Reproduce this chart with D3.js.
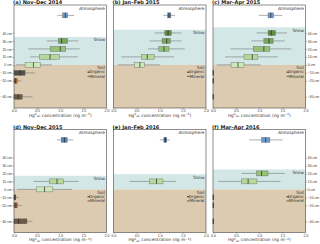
<!DOCTYPE html>
<html><head><meta charset="utf-8">
<script src="https://cdn.jsdelivr.net/npm/d3@7/dist/d3.min.js"></script>
<style>body{margin:0;background:#fff}svg{display:block;font-family:"DejaVu Sans",sans-serif}</style>
</head><body><svg id="c" width="320" height="244"></svg>
<script>
const panelTitles = ["(a) Nov–Dec 2014","(b) Jan–Feb 2015","(c) Mar–Apr 2015","(d) Nov–Dec 2015","(e) Jan–Feb 2016","(f) Mar–Apr 2016"];
const snowTop = [35, 44, 47, 17, 19, 25];
const depthTicks = [40,30,20,10,0,-10,-20,-40];
const depthLabels = ["40 cm","30 cm","20 cm","10 cm","0 cm","−10 cm","−20 cm","−40 cm"];
const xTicks = [0,0.5,1,1.5,2];
const xTickLabels = ["0.0","0.5","1.0","1.5","2.0"];
const atmDepth = 62;
// [whiskerLow, q1, median, q3, whiskerHigh]
const atmStats = [
  [0.94,1.05,1.11,1.16,1.30],
  [1.07,1.17,1.20,1.24,1.33],
  [0.99,1.19,1.25,1.31,1.50],
  [0.93,1.02,1.09,1.15,1.28],
  [1.00,1.09,1.12,1.15,1.22],
  [0.78,1.05,1.14,1.23,1.51]
];
// [panel, depth, wl, q1, med, q3, wh]
const snowStats = [
  [0,30,0.71,0.96,1.03,1.16,1.39],[0,20,0.31,0.78,1.00,1.12,1.42],[0,10,0.35,0.55,0.78,0.98,1.38],[0,0,0.04,0.24,0.42,0.57,0.82],
  [1,40,0.89,1.11,1.18,1.25,1.47],[1,30,0.78,1.05,1.15,1.23,1.47],[1,20,0.75,0.98,1.09,1.20,1.54],[1,10,0.17,0.60,0.73,0.88,1.31],[1,0,0.09,0.46,0.57,0.67,1.00],
  [2,40,0.94,1.19,1.26,1.35,1.60],[2,30,0.83,1.10,1.21,1.30,1.55],[2,20,0.38,0.87,1.10,1.23,1.69],[2,10,0.26,0.67,0.85,0.97,1.40],[2,0,0.08,0.39,0.54,0.67,1.03],
  [3,10,0.42,0.77,0.93,1.07,1.40],[3,0,0.06,0.48,0.66,0.84,1.25],
  [4,10,0.35,0.78,0.93,1.07,1.35],
  [5,20,0.62,0.94,1.05,1.19,1.55],[5,10,0.11,0.62,0.76,0.95,1.46]
];
// [panel, depth, type, wl, q1, med, q3, wh]
const soilStats = [
  [0,-10,"Organic",0,0,0.13,0.24,0.46],[0,-20,"Mineral",0,0,0.03,0.07,0.16],[0,-40,"Mixed",0,0,0.09,0.18,0.40],
  [2,-10,"Organic",0,0,0.005,0.01,0.02],[2,-20,"Organic",0,0,0.005,0.01,0.02],[2,-40,"Organic",0,0,0.005,0.01,0.02],
  [3,-10,"Organic",0,0,0.02,0.04,0.11],[3,-20,"Mineral",0,0,0.04,0.07,0.17],[3,-40,"Mixed",0,0,0.10,0.28,0.40],
  [5,-10,"Organic",0,0,0.005,0.01,0.02],[5,-20,"Organic",0,0,0.005,0.01,0.02],[5,-40,"Organic",0,0,0.005,0.01,0.02]
];

const snowColors = {40:"#5f8f45",30:"#77a75a",20:"#94c175",10:"#b4d99a",0:"#cde7b9"};
const atmColors = ["#6b9bd1","#4d78a6","#6b9bd1","#5585bb","#3f6893","#6b9bd1"];
const soilColors = {Organic:"#55504a",Mineral:"#a0672f",Mixed:"#6c5843"};

const svg = d3.select("#c");
const lefts = [14,113.5,213], tops = [5,129.5], W = 92.5, H = 103;
const boxH = 5;

panelTitles.forEach((title,i)=>{
  const col = i%3, row = Math.floor(i/3);
  const x0 = lefts[col], y0 = tops[row];
  const x = d3.scaleLinear().domain([0,2]).range([x0,x0+W]);
  const y = d3.scaleLinear().domain([75,-54]).range([y0,y0+H]);
  const g = svg.append("g");
  g.append("rect").attr("x",x0).attr("width",W).attr("y",y(snowTop[i])).attr("height",y(0)-y(snowTop[i])).attr("fill","#d3e7e7");
  g.append("rect").attr("x",x0).attr("width",W).attr("y",y(0)).attr("height",y(-54)-y(0)).attr("fill","#dccbb0");
  g.append("text").attr("x",x0+W-1.5).attr("y",y0+4.5).attr("text-anchor","end").attr("font-size",4.3).attr("fill","#333").text("Atmosphere");
  g.append("text").attr("x",x0+W-1.5).attr("y",y(snowTop[i])+4.5).attr("text-anchor","end").attr("font-size",4.3).attr("fill","#333").text("Snow");
  g.append("text").attr("x",x0+W-1.5).attr("y",y(0)+4.5).attr("text-anchor","end").attr("font-size",4.3).attr("fill","#333").text("Soil");
  ["Organic","Mineral"].forEach((t,k)=>{
    const ly = y(0)+8.6+k*4.2;
    g.append("line").attr("x1",x0+W-19).attr("x2",x0+W-16.5).attr("y1",ly-1.3).attr("y2",ly-1.3).attr("stroke",soilColors[t]).attr("stroke-width",1.2);
    g.append("text").attr("x",x0+W-1.5).attr("y",ly).attr("text-anchor","end").attr("font-size",4.1).attr("fill","#333").text(t);
  });
  function box(s, yc, fill){
    const [wl,q1,md,q3,wh] = s;
    g.append("line").attr("x1",x(wl)).attr("x2",x(wh)).attr("y1",yc).attr("y2",yc).attr("stroke","#777").attr("stroke-width",0.6);
    g.append("rect").attr("x",x(q1)).attr("width",Math.max(0.6,x(q3)-x(q1))).attr("y",yc-boxH/2).attr("height",boxH).attr("fill",fill).attr("stroke","#666").attr("stroke-width",0.4);
    g.append("line").attr("x1",x(md)).attr("x2",x(md)).attr("y1",yc-boxH/2).attr("y2",yc+boxH/2).attr("stroke","#222").attr("stroke-width",0.7);
  }
  box(atmStats[i], y(atmDepth), atmColors[i]);
  snowStats.filter(d=>d[0]===i).forEach(d=>box(d.slice(2), y(d[1]), snowColors[d[1]]));
  soilStats.filter(d=>d[0]===i).forEach(d=>box(d.slice(3), y(d[1]), soilColors[d[2]]));
  g.append("rect").attr("x",x0).attr("y",y0).attr("width",W).attr("height",H).attr("fill","none").attr("stroke","#444").attr("stroke-width",0.6);
  const xa = g.append("g").attr("transform",`translate(0,${y0+H})`).call(d3.axisBottom(x).tickValues(xTicks).tickFormat((d,k)=>xTickLabels[k]).tickSize(1.3).tickPadding(0.8));
  xa.select(".domain").remove();
  xa.selectAll("text").attr("font-size",3.5).attr("dy","0.6em").attr("fill","#333");
  xa.selectAll("line").attr("stroke","#444").attr("stroke-width",0.4);
  const xl = g.append("text").attr("x",x0+W/2).attr("y",y0+H+8.6).attr("text-anchor","middle").attr("font-size",4.3).attr("fill","#333");
  xl.append("tspan").text("Hg");
  xl.append("tspan").attr("font-size",2.9).attr("dy",-1.6).text("0");
  xl.append("tspan").attr("font-size",2.9).attr("dy",2.4).text("air");
  xl.append("tspan").attr("dy",-0.8).text(" concentration (ng m");
  xl.append("tspan").attr("font-size",2.9).attr("dy",-1.6).text("−3");
  xl.append("tspan").attr("dy",1.6).text(")");
  if(col===0 || col===2){
    const ax = col===0 ? d3.axisLeft(y) : d3.axisRight(y);
    const ya = g.append("g").attr("transform",`translate(${col===0?x0:x0+W},0)`).call(ax.tickValues(depthTicks).tickFormat((d,k)=>depthLabels[k]).tickSize(1.5).tickPadding(0.8));
    ya.select(".domain").remove();
    ya.selectAll("text").attr("font-size",3.4).attr("fill","#333");
    ya.selectAll("line").attr("stroke","#444").attr("stroke-width",0.4);
  }
  g.append("text").attr("x",x0-1).attr("y",y0-0.8).attr("font-size",5).attr("font-weight","bold").attr("fill","#222").text(title);
});
</script></body></html>
